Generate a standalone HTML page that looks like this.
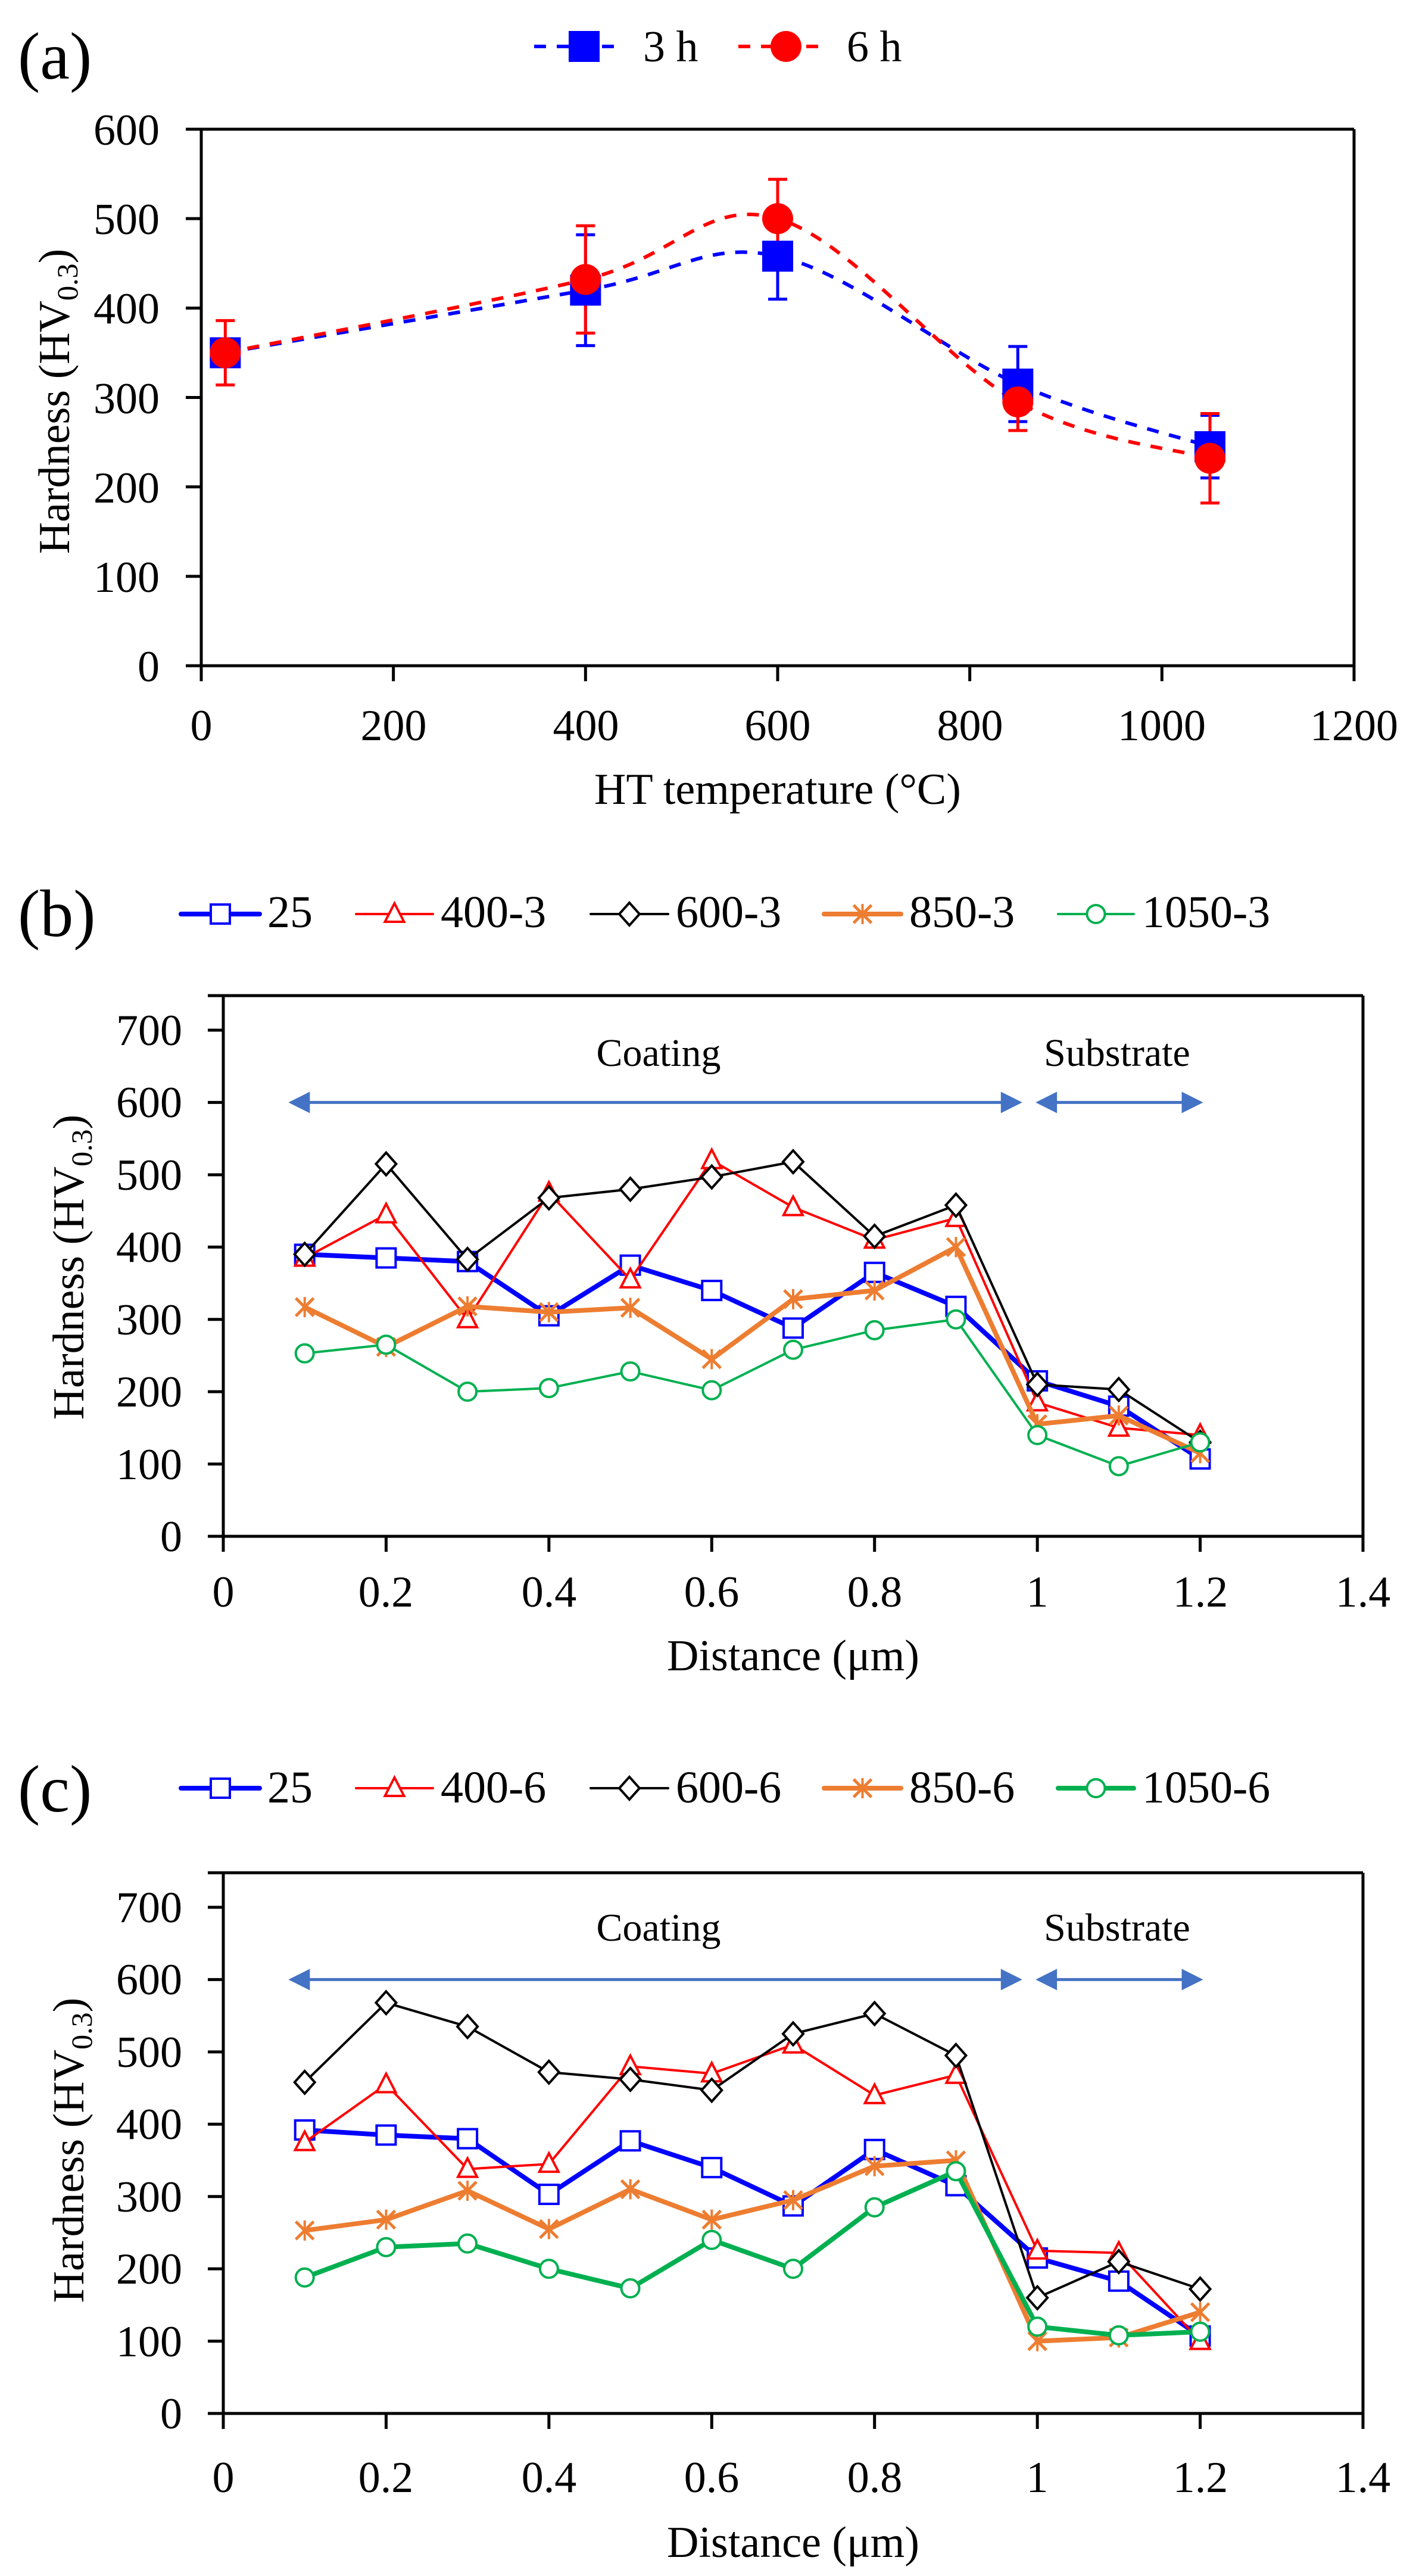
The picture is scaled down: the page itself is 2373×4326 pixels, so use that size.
<!DOCTYPE html>
<html><head><meta charset="utf-8"><style>
html,body{margin:0;padding:0;background:#fff}
svg{display:block}
text{font-family:"Liberation Serif",serif;fill:#000}
</style></head><body>
<svg id="s" width="2373" height="4326" viewBox="0 0 2373 4326" xmlns="http://www.w3.org/2000/svg">
<rect width="2373" height="4326" fill="#fff"/>
<!-- Panel a text -->
<text x="30" y="132" font-size="112">(a)</text>
<text x="1080" y="103" font-size="74">3 h</text>
<text x="1422" y="103" font-size="74">6 h</text>
<g font-size="74" text-anchor="end">
<text x="268" y="243">600</text><text x="268" y="393">500</text><text x="268" y="543">400</text>
<text x="268" y="694">300</text><text x="268" y="844">200</text><text x="268" y="994">100</text><text x="268" y="1144">0</text>
</g>
<g font-size="74" text-anchor="middle">
<text x="338" y="1243">0</text><text x="661" y="1243">200</text><text x="984" y="1243">400</text><text x="1306" y="1243">600</text>
<text x="1629" y="1243">800</text><text x="1951" y="1243">1000</text><text x="2274" y="1243">1200</text>
<text x="1306" y="1350">HT temperature (°C)</text>
</g>
<text transform="translate(116,674) rotate(-90)" font-size="74" text-anchor="middle">Hardness (HV<tspan font-size="50" dy="14">0.3</tspan><tspan dy="-14">)</tspan></text>

<!-- Panel b text -->
<text x="30" y="1572" font-size="112">(b)</text>
<g font-size="76">
<text x="449" y="1557">25</text><text x="740" y="1557">400-3</text><text x="1135" y="1557">600-3</text>
<text x="1527" y="1557">850-3</text><text x="1918" y="1557">1050-3</text>
</g>
<g font-size="74" text-anchor="end">
<text x="306" y="1755">700</text><text x="306" y="1876">600</text><text x="306" y="1998">500</text><text x="306" y="2119">400</text>
<text x="306" y="2241">300</text><text x="306" y="2362">200</text><text x="306" y="2484">100</text><text x="306" y="2605">0</text>
</g>
<g font-size="74" text-anchor="middle">
<text x="375" y="2698">0</text><text x="648" y="2698">0.2</text><text x="922" y="2698">0.4</text><text x="1195" y="2698">0.6</text>
<text x="1469" y="2698">0.8</text><text x="1742" y="2698">1</text><text x="2016" y="2698">1.2</text><text x="2289" y="2698">1.4</text>
<text x="1332" y="2805">Distance (μm)</text>
<text x="1106" y="1790" font-size="66">Coating</text>
<text x="1876" y="1790" font-size="66">Substrate</text>
</g>
<text transform="translate(140,2128) rotate(-90)" font-size="74" text-anchor="middle">Hardness (HV<tspan font-size="50" dy="14">0.3</tspan><tspan dy="-14">)</tspan></text>

<!-- Panel c text -->
<text x="30" y="3042" font-size="112">(c)</text>
<g font-size="76">
<text x="449" y="3027">25</text><text x="740" y="3027">400-6</text><text x="1135" y="3027">600-6</text>
<text x="1527" y="3027">850-6</text><text x="1918" y="3027">1050-6</text>
</g>
<g font-size="74" text-anchor="end">
<text x="306" y="3228">700</text><text x="306" y="3349">600</text><text x="306" y="3471">500</text><text x="306" y="3592">400</text>
<text x="306" y="3714">300</text><text x="306" y="3835">200</text><text x="306" y="3957">100</text><text x="306" y="4078">0</text>
</g>
<g font-size="74" text-anchor="middle">
<text x="375" y="4185">0</text><text x="648" y="4185">0.2</text><text x="922" y="4185">0.4</text><text x="1195" y="4185">0.6</text>
<text x="1469" y="4185">0.8</text><text x="1742" y="4185">1</text><text x="2016" y="4185">1.2</text><text x="2289" y="4185">1.4</text>
<text x="1332" y="4294">Distance (μm)</text>
<text x="1106" y="3259" font-size="66">Coating</text>
<text x="1876" y="3259" font-size="66">Substrate</text>
</g>
<text transform="translate(140,3611) rotate(-90)" font-size="74" text-anchor="middle">Hardness (HV<tspan font-size="50" dy="14">0.3</tspan><tspan dy="-14">)</tspan></text>
<g id="g"></g>
</svg>
<script>
var NS="http://www.w3.org/2000/svg",G=document.getElementById("g");
function el(t,a){var e=document.createElementNS(NS,t);for(var k in a)e.setAttribute(k,a[k]);G.appendChild(e);return e;}
function line(x1,y1,x2,y2,c,w,ex){var a={x1:x1,y1:y1,x2:x2,y2:y2,stroke:c,"stroke-width":w};for(var k in ex)a[k]=ex[k];return el("line",a);}
// ---------- Panel a ----------
(function(){
var L=338,R=2274,T=217,B=1118;
function X(v){return L+(R-L)*v/1200;} function Y(v){return B-(B-T)*v/600;}
line(L-26,T,R,T,"#000",5);line(L,T,L,B,"#000",5);line(L,B,R,B,"#000",5);line(R,T,R,B+26,"#000",5);
for(var i=0;i<=6;i++)line(L-26,Y(i*100),L,Y(i*100),"#000",5);
for(var i=0;i<=6;i++)line(X(i*200),B,X(i*200),B+26,"#000",5);
function smooth(p){var d="M"+p[0][0]+","+p[0][1];for(var i=0;i<p.length-1;i++){var p0=p[i-1]||p[i],p1=p[i],p2=p[i+1],p3=p[i+2]||p2;
var c1=[p1[0]+(p2[0]-p0[0])/6,p1[1]+(p2[1]-p0[1])/6],c2=[p2[0]-(p3[0]-p1[0])/6,p2[1]-(p3[1]-p1[1])/6];
d+=" C"+c1+" "+c2+" "+p2;}return d;}
var xs=[25,400,600,850,1050];
var s3=[350,420,458,315,245],e3=[15,62,48,42,35];
var s6=[350,432,500,295,232],e6=[36,60,44,32,50];
function ser(s,e,c,sq){
 var p=xs.map(function(x,i){return [X(x),Y(s[i])];});
 el("path",{d:smooth(p),fill:"none",stroke:c,"stroke-width":6,"stroke-dasharray":"20,18"});
 p.forEach(function(q,i){var y1=Y(s[i]+e[i]),y2=Y(s[i]-e[i]);
  line(q[0],y1,q[0],y2,c,5);line(q[0]-16,y1,q[0]+16,y1,c,5);line(q[0]-16,y2,q[0]+16,y2,c,5);});
 return p;}
var p3=ser(s3,e3,"#0000ff"),p6=ser(s6,e6,"#ff0000");
p3.forEach(function(q){el("rect",{x:q[0]-26,y:q[1]-26,width:52,height:52,fill:"#0000ff"});});
p6.forEach(function(q){el("ellipse",{cx:q[0],cy:q[1],rx:26,ry:26,fill:"#ff0000"});});
// legend
line(897,78,1049,78,"#0000ff",6,{"stroke-dasharray":"20,18"});el("rect",{x:955,y:52,width:52,height:52,fill:"#0000ff"});
line(1240,78,1392,78,"#ff0000",6,{"stroke-dasharray":"20,18"});el("circle",{cx:1320,cy:78,r:26,fill:"#ff0000"});
})();
// ---------- Panels b,c ----------
function marker(type,x,y,c,w){
 var s=16;
 if(type=="sq")el("rect",{x:x-s,y:y-s,width:2*s,height:2*s,fill:"#fff",stroke:c,"stroke-width":4});
 else if(type=="tri")el("polygon",{points:(x)+","+(y-18)+" "+(x+16)+","+(y+13)+" "+(x-16)+","+(y+13),fill:"#fff",stroke:c,"stroke-width":4});
 else if(type=="dia")el("polygon",{points:x+","+(y-19)+" "+(x+17)+","+y+" "+x+","+(y+19)+" "+(x-17)+","+y,fill:"#fff",stroke:c,"stroke-width":4});
 else if(type=="cir")el("circle",{cx:x,cy:y,r:15,fill:"#fff",stroke:c,"stroke-width":4});
 else if(type=="star"){line(x-15,y-15,x+15,y+15,c,5);line(x-15,y+15,x+15,y-15,c,5);line(x,y-17,x,y+17,c,4);}
}
function panel(T0,Y7,Y0,data,legY){
 var L=375,R=2289;
 function X(v){return L+(R-L)*v/1.4;} function Y(v){return Y0-(Y0-Y7)*v/700;}
 line(L-26,T0,R,T0,"#000",5);line(L,T0,L,Y0,"#000",5);line(L-26,Y0,R,Y0,"#000",5);line(R,T0,R,Y0+26,"#000",5);
 for(var i=0;i<=7;i++)line(L-26,Y(i*100),L,Y(i*100),"#000",5);
 for(var i=0;i<=7;i++)line(X(i*0.2),Y0,X(i*0.2),Y0+26,"#000",5);
 // arrows
 var ay=Y(600),ac="#4472c4";
 line(X(0.08)+30,ay,X(0.98)-30,ay,ac,5);
 el("polygon",{points:(X(0.08))+","+ay+" "+(X(0.08)+36)+","+(ay-18)+" "+(X(0.08)+36)+","+(ay+18),fill:ac});
 el("polygon",{points:(X(0.98)+2)+","+ay+" "+(X(0.98)-34)+","+(ay-18)+" "+(X(0.98)-34)+","+(ay+18),fill:ac});
 var s1=X(1.0)-3,s2=X(1.2)+5;
 line(s1+30,ay,s2-30,ay,ac,5);
 el("polygon",{points:s1+","+ay+" "+(s1+36)+","+(ay-18)+" "+(s1+36)+","+(ay+18),fill:ac});
 el("polygon",{points:s2+","+ay+" "+(s2-36)+","+(ay-18)+" "+(s2-36)+","+(ay+18),fill:ac});
 var lx=[[304,436],[598,727],[992,1122],[1384,1513],[1777,1904]];
 data.forEach(function(d,k){
  var pts=d.v.map(function(v,i){return [X(0.1*(i+1)),Y(v)];});
  el("polyline",{points:pts.map(function(p){return p.join(",");}).join(" "),fill:"none",stroke:d.c,"stroke-width":d.w,"stroke-linejoin":"round"});
  pts.forEach(function(p){marker(d.m,p[0],p[1],d.c);});
  line(lx[k][0],legY,lx[k][1],legY,d.c,d.w,{"stroke-linecap":"round"});
  marker(d.m,(lx[k][0]+lx[k][1])/2,legY,d.c);
 });
}
var B="#0000ff",Rd="#ff0000",K="#000",O="#ed7d31",Gn="#00b050";
panel(1672,1730,2580,[
 {c:B,w:8,m:"sq",v:[390,385,380,305,375,340,288,365,318,215,180,107]},
 {c:Rd,w:4,m:"tri",v:[385,445,300,475,355,520,455,410,440,185,150,140]},
 {c:K,w:4,m:"dia",v:[390,515,383,468,480,497,518,415,458,210,203,130]},
 {c:O,w:8,m:"star",v:[317,262,318,310,316,245,328,340,400,155,167,115]},
 {c:Gn,w:4,m:"cir",v:[253,265,200,205,228,202,258,285,300,140,97,130]}],1535);
panel(3145,3203,4053,[
 {c:B,w:8,m:"sq",v:[392,385,380,303,377,340,287,365,315,215,183,107]},
 {c:Rd,w:4,m:"tri",v:[375,455,338,345,480,470,510,440,468,225,222,100]},
 {c:K,w:4,m:"dia",v:[458,568,535,472,462,447,525,553,495,160,210,172]},
 {c:O,w:8,m:"star",v:[253,268,308,255,310,268,295,342,350,100,105,140]},
 {c:Gn,w:8,m:"cir",v:[188,230,235,200,173,240,200,285,335,120,108,113]}],3003);
</script>
</body></html>
